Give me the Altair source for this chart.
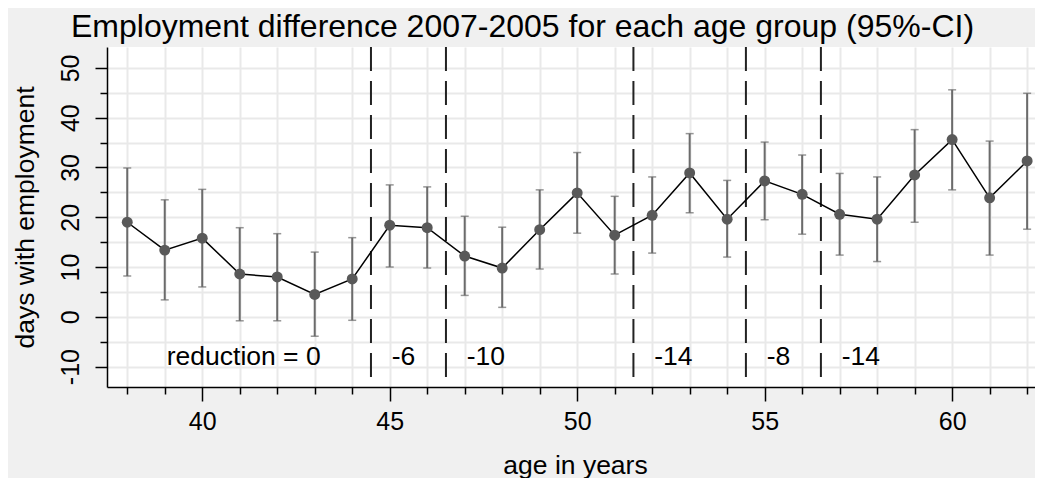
import altair as alt
import pandas as pd

ages = list(range(38, 63))
estimate = [19.0, 13.4, 15.8, 8.6, 8.0, 4.5, 7.6, 18.4, 17.9, 12.2, 9.8, 17.5,
            24.9, 16.4, 20.4, 28.9, 19.6, 27.3, 24.6, 20.6, 19.6, 28.5, 35.6, 23.9, 31.3]
ci_low = [8.2, 3.4, 6.0, -0.8, -0.8, -3.9, -0.7, 10.0, 9.8, 4.3, 1.9, 9.6,
          16.8, 8.6, 12.8, 20.9, 12.0, 19.5, 16.6, 12.4, 11.1, 19.0, 25.5, 12.4, 17.6]
ci_high = [29.9, 23.5, 25.6, 17.9, 16.7, 13.0, 15.9, 26.5, 26.1, 20.2, 18.0, 25.5,
           33.0, 24.2, 28.1, 36.8, 27.4, 35.1, 32.5, 28.8, 28.1, 37.6, 45.6, 35.3, 44.9]

boundaries = [44.5, 46.5, 51.5, 54.5, 56.5]
group_labels = ["reduction = 0", "-6", "-10", "-14", "-8", "-14"]
group_label_x = [39, 45, 47, 52, 55, 57]
group_label_y = [-8, -8, -8, -8, -8, -8]

x_ticks = list(range(38, 63))
y_ticks = list(range(-10, 55, 5))

df = pd.DataFrame({"age": ages, "est": estimate, "lo": ci_low, "hi": ci_high})
df_b = pd.DataFrame({"b": boundaries})
df_t = pd.DataFrame({"x": group_label_x, "y": group_label_y, "label": group_labels})

FONT = "Liberation Sans"
W, H = 928, 340
xscale = alt.Scale(domain=[37.46, 62.21], nice=False, zero=False)
yscale = alt.Scale(domain=[-14.1, 54.2], nice=False, zero=False)

xaxis = alt.Axis(
    values=x_ticks,
    title="age in years",
    labelExpr="datum.value % 5 === 0 ? '' + datum.value : ''",
    tickSize={"condition": {"test": "datum.value % 5 === 0", "value": 14}, "value": 7},
    tickColor="black", tickWidth=1.5,
    domainColor="black", domainWidth=1.5,
    gridColor="#e9e9e9", gridWidth=2,
    labelFont=FONT, labelFontSize=25, labelColor="black", labelPadding=8,
    labelFlush=False, labelOverlap=False,
    titleFont=FONT, titleFontSize=26.5, titleFontWeight="normal", titleColor="black",
    titleX=(1043 - 107) / 2, titleY=86, titleBaseline="alphabetic", titleAlign="center",
)
yaxis = alt.Axis(
    values=y_ticks,
    title="days with employment",
    labelExpr="datum.value % 10 === 0 ? '' + datum.value : ''",
    tickSize={"condition": {"test": "datum.value % 10 === 0", "value": 12}, "value": 7},
    tickColor="black", tickWidth=1.5,
    domainColor="black", domainWidth=1.5,
    gridColor="#e9e9e9", gridWidth=2,
    labelFont=FONT, labelFontSize=25, labelColor="black",
    labelAngle=270, labelAlign="center", labelBaseline="middle", labelPadding=25,
    labelFlush=False, labelOverlap=False,
    titleFont=FONT, titleFontSize=26.5, titleFontWeight="normal", titleColor="black",
    titleAngle=270, titleX=-82, titleY=H / 2, titleAlign="center", titleBaseline="middle",
)

base = alt.Chart(df)

err = base.mark_rule(color="#6b6b6b", strokeWidth=2).encode(
    x=alt.X("age:Q", scale=xscale, axis=xaxis),
    y=alt.Y("lo:Q", scale=yscale, axis=yaxis),
    y2="hi:Q",
)
cap_lo = base.mark_tick(color="#6b6b6b", orient="horizontal", size=8, thickness=1.5).encode(
    x=alt.X("age:Q", scale=xscale, axis=xaxis),
    y=alt.Y("lo:Q", scale=yscale, axis=yaxis),
)
cap_hi = base.mark_tick(color="#6b6b6b", orient="horizontal", size=8, thickness=1.5).encode(
    x=alt.X("age:Q", scale=xscale, axis=xaxis),
    y=alt.Y("hi:Q", scale=yscale, axis=yaxis),
)
line = base.mark_line(color="black", strokeWidth=1.5).encode(
    x=alt.X("age:Q", scale=xscale, axis=xaxis),
    y=alt.Y("est:Q", scale=yscale, axis=yaxis),
)
pts = base.mark_circle(color="#595959", opacity=1, size=120).encode(
    x=alt.X("age:Q", scale=xscale, axis=xaxis),
    y=alt.Y("est:Q", scale=yscale, axis=yaxis),
)
rules = alt.Chart(df_b).mark_rule(color="#222222", strokeWidth=2, strokeDash=[24, 10]).encode(
    x=alt.X("b:Q", scale=xscale, axis=xaxis),
)
texts = alt.Chart(df_t).mark_text(
    align="left", baseline="middle", dx=2, font=FONT, fontSize=26.5, color="black"
).encode(
    x=alt.X("x:Q", scale=xscale, axis=xaxis),
    y=alt.Y("y:Q", scale=yscale, axis=yaxis),
    text="label:N",
)

chart = alt.layer(rules, err, cap_lo, cap_hi, line, pts, texts).properties(
    width=W,
    height=H,
    autosize=alt.AutoSizeParams(type="none"),
    padding={"left": 99, "top": 39, "right": 0, "bottom": 91},
    background="#f0f0f0",
    title=alt.TitleParams(
        text="Employment difference 2007-2005 for each age group (95%-CI)",
        anchor="start", frame="group", dx=-36, dy=36, offset=13, baseline="alphabetic",
        font=FONT, fontSize=32, fontWeight="normal", color="black",
    ),
).configure_view(fill="white", strokeWidth=0)

chart.save("out.html", embed_options={"renderer": "svg", "actions": False})
